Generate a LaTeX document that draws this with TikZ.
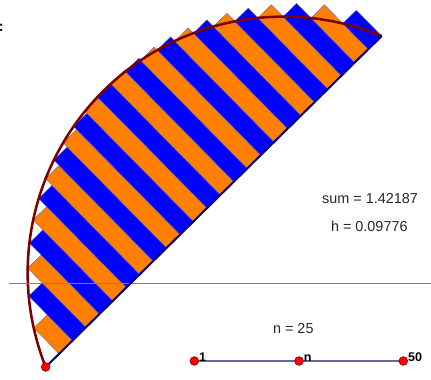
\documentclass[tikz,border=0pt]{standalone}
\usepackage{fontspec}
\setmainfont{Liberation Sans}
\usetikzlibrary{positioning,calc}
\definecolor{stripblue}{RGB}{0,0,255}
\definecolor{striporange}{RGB}{255,127,0}
\definecolor{arcred}{RGB}{125,0,0}
\definecolor{basenavy}{RGB}{0,0,130}
\definecolor{sliderline}{RGB}{100,100,175}

\begin{document}
\begin{tikzpicture}[x=0.75pt,y=0.75pt,
  dot/.style={circle,fill=red,draw=red!55!black,line width=0.5pt,inner sep=0pt,minimum size=6.5pt},
  val/.style={font=\fontsize{10.8}{12}\selectfont,text=black!85},
  tick/.style={font=\fontsize{9.4}{11}\selectfont\bfseries,inner sep=0pt}]
\useasboundingbox (0,0) rectangle (431,379);
\coordinate (A) at (45.7,12);
\coordinate (B) at (381.7,343);
\coordinate (axisL) at (9,95.3);
\coordinate (axisR) at (431,95.3);
\coordinate (s1) at (194.3,18);
\coordinate (sn) at (299,18);
\coordinate (s50) at (403.3,18);
\begin{scope}[shift={(A)},rotate=44.57]
\foreach \i in {1,...,24}{
  \pgfmathsetmacro{\ta}{\i*18.866}
  \pgfmathsetmacro{\hgt}{100*sqrt(6.5614-((\ta-235.83)/100)^2)-100}
  \pgfmathtruncatemacro{\odd}{mod(\i,2)}
  \ifnum\odd=1 \def\fillc{striporange}\else\def\fillc{stripblue}\fi
  \draw[fill=\fillc,draw=basenavy!60,line width=0.3pt] (\ta,0) rectangle ++(18.866,\hgt);
}
\draw[arcred,line width=1.9pt] (A) arc[start angle=157.02,end angle=22.98,radius=256.15];
\end{scope}
\draw[gray,line width=0.75pt] (axisL) -- (axisR);
\draw[basenavy,line width=1.5pt] (A) -- (B);
\node[dot] (pA) at (A) {};
\node[anchor=base west,inner sep=0pt,font=\fontsize{10.8}{12}\selectfont\bfseries] (cut) at (-1.5,347) {:};
\node[val] (sumval) at (370,180.7) {sum = 1.42187};
\node[val] (hval) at (369.3,152.3) {h = 0.09776};
\node[val] (nval) at (293.3,50.7) {n = 25};
\draw[sliderline,line width=1pt] (s1) -- (s50);
\node[dot] (d1) at (s1) {};
\node[dot] (dn) at (sn) {};
\node[dot] (d50) at (s50) {};
\node[tick,above right=-0.5pt and 3.5pt of s1] (t1) {1};
\node[tick,above right=-0.5pt and 3.5pt of sn] (tn) {n};
\node[tick,above right=-0.5pt and 3.5pt of s50] (t50) {50};
\end{tikzpicture}
\end{document}
